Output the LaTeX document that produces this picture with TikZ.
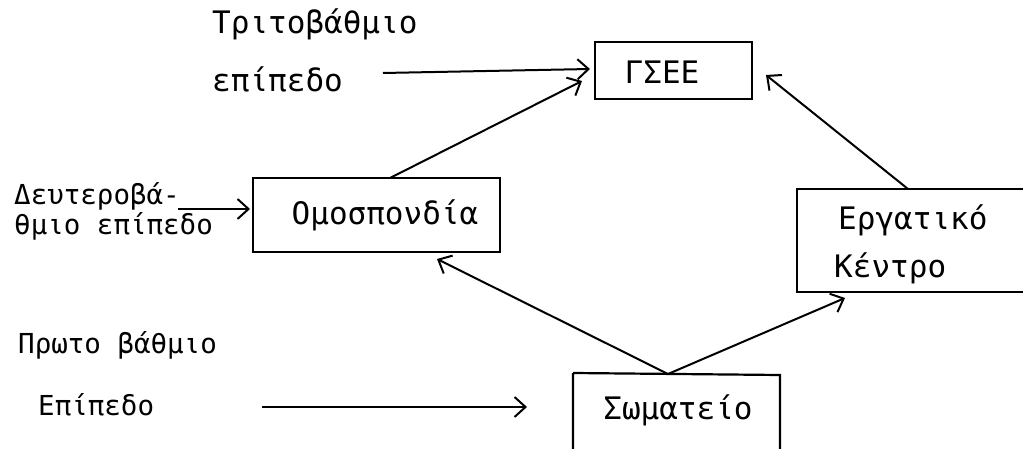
\documentclass[tikz,border=0pt]{standalone}
\usepackage{fontspec}
\setmainfont{DejaVu Sans Mono}
\usetikzlibrary{arrows.meta}
\begin{document}
\begin{tikzpicture}[x=1pt,y=-1pt,
  box/.style={draw,line width=2.2pt},
  conn/.style={line width=2pt,-{Straight Barb[length=11pt,width=20pt,line width=2pt]}},
  big/.style={font=\fontsize{31}{31}\selectfont,inner sep=0pt},
  mid/.style={font=\fontsize{27.5}{27.5}\selectfont,inner sep=0pt,anchor=west}]
\useasboundingbox (0,0) rectangle (1023,449);
% boxes
\draw[box] (595,42) rectangle (752,99);
\node[big] (gsee) at (662,72) {ΓΣΕΕ};
\draw[box] (253,178) rectangle (500,252);
\node[big] (omo) at (385,215) {Ομοσπονδία};
\draw[box] (797,189) rectangle (1035,292);
\node[big,anchor=west] (erg1) at (838,220) {Εργατικό};
\node[big,anchor=west] (erg2) at (834,268) {Κέντρο};
\draw[box] (573,373) -- (573,460) (573,373) -- (780,375) -- (780,460);
\node[big] (som) at (678,410) {Σωματείο};
% labels
\node[big,anchor=west] (tri1) at (212,24) {Τριτοβάθμιο};
\node[big,anchor=west] (tri2) at (212,79) {επίπεδο};
\node[mid] (deu1) at (14,196) {Δευτεροβά-};
\node[mid] (deu2) at (14,226) {θμιο επίπεδο};
\node[mid] (pro1) at (18,345) {Πρωτο βάθμιο};
\node[mid] (pro2) at (38,405) {Επίπεδο};
% connector anchor points
\coordinate (a1s) at (383,73);
\coordinate (a1e) at (590,69);
\coordinate (a2s) at (178,209);
\coordinate (a2e) at (250,209);
\coordinate (a3s) at (262,407);
\coordinate (a3e) at (527,407);
\coordinate (omoT) at (390,178);
\coordinate (gseeA) at (582,81);
\coordinate (ergT) at (908,189);
\coordinate (gseeR) at (766,75);
\coordinate (somT) at (668,374);
\coordinate (omoB) at (437,259);
\coordinate (ergB) at (845,298);
% connectors
\draw[conn] (a1s) -- (a1e);
\draw[conn] (a2s) -- (a2e);
\draw[conn] (a3s) -- (a3e);
\draw[conn] (omoT) -- (gseeA);
\draw[conn] (ergT) -- (gseeR);
\draw[conn] (somT) -- (omoB);
\draw[conn] (somT) -- (ergB);
\end{tikzpicture}
\end{document}
